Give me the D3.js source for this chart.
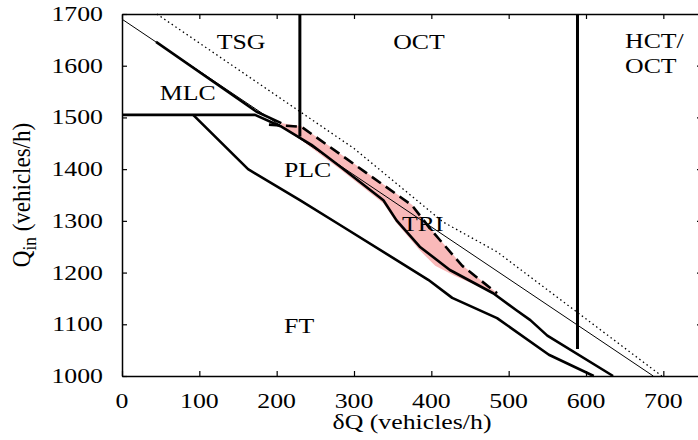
<!DOCTYPE html>
<html><head><meta charset="utf-8">
<script src="https://cdn.jsdelivr.net/npm/d3@7"></script>
<style>
body{margin:0;background:#fff}
text{font-family:"Liberation Serif","Times New Roman",serif;font-size:20px;fill:#000}
</style>
</head><body>
<svg id="c" width="698" height="440"></svg>
<script>
// ---- data ----
const xTicks = [0, 100, 200, 300, 400, 500, 600, 700];
const yTicks = [1000, 1100, 1200, 1300, 1400, 1500, 1600, 1700];
const thinLine = [[0, 1690], [687, 1000]];
const dottedLine = [[45, 1700], [300, 1440], [415, 1298], [485, 1240], [698, 1000]];
const mlcUpper = [[44, 1646], [174, 1511], [206, 1489]];
const plcUpper = [[0, 1505], [172, 1505], [205, 1483], [245, 1447], [282, 1405], [338, 1340], [355, 1301], [385, 1250], [424, 1205], [480, 1160], [510, 1127], [528, 1108], [550, 1078], [635, 1000]];
const ftBoundary = [[92, 1505], [163, 1400], [230, 1340], [282, 1292], [396, 1186], [427, 1151], [485, 1112], [552, 1041], [610, 1000]];
const dashedLine = [[190, 1486], [232, 1482], [375, 1330], [400, 1282], [440, 1213], [485, 1160]];
const pinkUpper = [[205, 1489], [232, 1483], [375, 1331], [400, 1283], [440, 1214], [486, 1159]];
const pinkLower = [[205, 1486], [282, 1400], [338, 1334], [355, 1296], [385, 1243], [405, 1213], [430, 1194], [486, 1157]];
const verticals = [{x: 230, y0: 1463, y1: 1700}, {x: 589, y0: 1052, y1: 1700}];
const regionLabels = [
  {t: "TSG", x: 154, y: 1633}, {t: "OCT", x: 384, y: 1633},
  {t: "MLC", x: 85, y: 1534}, {t: "PLC", x: 240, y: 1384},
  {t: "TRI", x: 389, y: 1281}, {t: "FT", x: 229, y: 1084}
];
const hctLabel = ["HCT/", "OCT"];

// ---- chart ----
const svg = d3.select("#c");
const x = d3.scaleLinear().domain([0, 750]).range([122, 702]);
const y = d3.scaleLinear().domain([1000, 1700]).range([376, 14]);
const SX = 1.29;
const line = d3.line().x(d => x(d[0])).y(d => y(d[1]));

// pink area
const poly = pinkUpper.concat(pinkLower.slice().reverse());
svg.append("path").attr("d", line(poly) + "Z").attr("fill", "#f9b9b9").attr("stroke", "none");

svg.append("path").attr("d", line(thinLine)).attr("fill", "none").attr("stroke", "#000").attr("stroke-width", 1);
svg.append("path").attr("d", line(dottedLine)).attr("fill", "none").attr("stroke", "#000").attr("stroke-width", 1.3).attr("stroke-dasharray", "1.5,3");
[mlcUpper, plcUpper, ftBoundary].forEach(l =>
  svg.append("path").attr("d", line(l)).attr("fill", "none").attr("stroke", "#000").attr("stroke-width", 2.6).attr("stroke-linejoin", "round"));
svg.append("path").attr("d", line(dashedLine)).attr("fill", "none").attr("stroke", "#000").attr("stroke-width", 2.6).attr("stroke-dasharray", "11,6");
verticals.forEach(v => svg.append("line").attr("x1", x(v.x)).attr("x2", x(v.x)).attr("y1", y(v.y0)).attr("y2", y(v.y1)).attr("stroke", "#000").attr("stroke-width", 3));

// axes frame with inward ticks
const tl = 5;
const gB = svg.append("g").attr("transform", `translate(0,${y(1000)})`).call(d3.axisBottom(x).tickValues(xTicks).tickSizeInner(-tl).tickSizeOuter(0).tickFormat(""));
const gT = svg.append("g").attr("transform", `translate(0,${y(1700)})`).call(d3.axisTop(x).tickValues(xTicks).tickSizeInner(-tl).tickSizeOuter(0).tickFormat(""));
const gL = svg.append("g").attr("transform", `translate(${x(0)},0)`).call(d3.axisLeft(y).tickValues(yTicks).tickSizeInner(-tl).tickSizeOuter(0).tickFormat(""));
const gR = svg.append("g").attr("transform", `translate(${x(750)},0)`).call(d3.axisRight(y).tickValues(yTicks).tickSizeInner(-tl).tickSizeOuter(0).tickFormat(""));
[gB, gT, gL, gR].forEach(g => { g.select(".domain").attr("stroke", "#000").attr("stroke-width", 1.5); g.selectAll(".tick line").attr("stroke", "#000").attr("stroke-width", 1.2); });

function stext(t, px, py, anchor) {
  return svg.append("text").attr("transform", `translate(${px},${py}) scale(${SX},1)`).attr("text-anchor", anchor).text(t);
}
xTicks.forEach(v => stext(v, x(v), 408, "middle"));
yTicks.forEach(v => stext(v, 103, y(v) + 7, "end"));
stext("δQ (vehicles/h)", 412, 429, "middle");
const yl = svg.append("text").attr("transform", `translate(30,195) rotate(-90) scale(1.15,1.28)`).attr("text-anchor", "middle");
yl.append("tspan").text("Q");
yl.append("tspan").attr("font-size", 15).attr("dy", 5).text("in");
yl.append("tspan").attr("dy", -5).text(" (vehicles/h)");

regionLabels.forEach(d => stext(d.t, x(d.x), y(d.y), "middle"));
hctLabel.forEach((t, i) => stext(t, 625, 48 + i * 25, "start"));
</script>
</body></html>
